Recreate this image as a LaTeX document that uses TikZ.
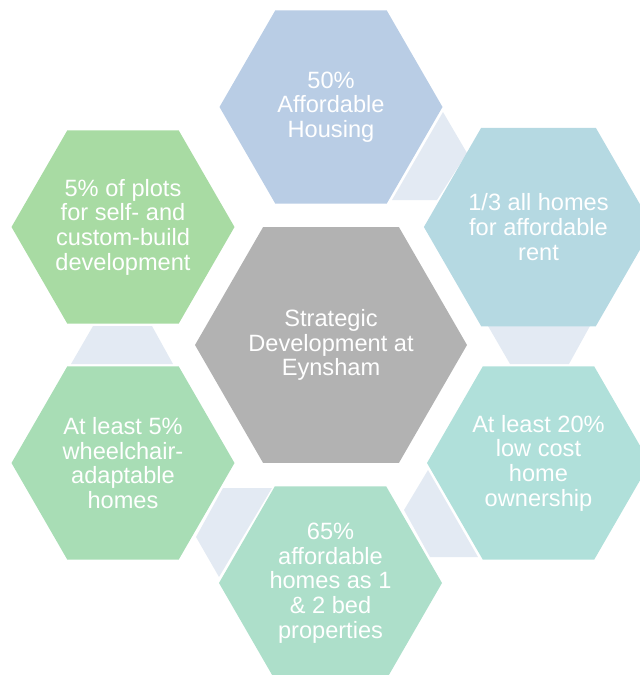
\documentclass[tikz,border=0pt]{standalone}
\usepackage{fontspec}
\setmainfont{Liberation Sans}
\usetikzlibrary{shapes.geometric}

\definecolor{hexBlue}{RGB}{185,205,229}
\definecolor{hexSky}{RGB}{181,217,226}
\definecolor{hexAqua}{RGB}{176,224,218}
\definecolor{hexMint}{RGB}{173,223,202}
\definecolor{hexSea}{RGB}{168,221,181}
\definecolor{hexLeaf}{RGB}{168,219,163}
\definecolor{hexGrey}{RGB}{178,178,178}
\definecolor{linkFill}{RGB}{227,234,243}

\tikzset{
  hexcell/.style={regular polygon, regular polygon sides=6,
    minimum size=223pt, inner sep=0pt, outer sep=0pt, draw=none,
    text=white, align=center, font=\fontsize{23.6}{24.7}\selectfont},
  hexhub/.style={hexcell, minimum size=272pt},
  linkpiece/.style={fill=linkFill, draw=none}
}

\begin{document}
\begin{tikzpicture}[x=1pt, y=-1pt]
  \useasboundingbox (0,0) rectangle (640,675);

  % light links between neighbouring cells
  \fill[linkpiece] (443,112) -- (467,153) -- (437,200) -- (392,200) -- cycle;
  \fill[linkpiece] (488,326) -- (590,326) -- (569,364) -- (510,364) -- cycle;
  \fill[linkpiece] (428,470) -- (404,510) -- (430,557) -- (478,557) -- cycle;
  \fill[linkpiece] (223,488) -- (272,488) -- (219,577) -- (196,537) -- cycle;
  \fill[linkpiece] (93,326) -- (152,326) -- (173,364) -- (71,364) -- cycle;

  % central cell
  \node[hexhub, fill=hexGrey] (hub) at (331,345) {Strategic\\Development at\\Eynsham};

  % surrounding cells
  \node[hexcell, fill=hexBlue] (afford) at (331,107) {50\%\\Affordable\\Housing};
  \node[hexcell, fill=hexSky]  (rent)   at (538.5,227) {1/3 all homes\\for affordable\\rent};
  \node[hexcell, fill=hexAqua] (owner)  at (538.5,463) {At least 20\%\\low cost\\home\\ownership};
  \node[hexcell, fill=hexMint] (beds)   at (330.5,583) {65\%\\affordable\\homes as 1\\\& 2 bed\\properties};
  \node[hexcell, fill=hexSea]  (wheel)  at (123,463) {At least 5\%\\wheelchair-\\adaptable\\homes};
  \node[hexcell, fill=hexLeaf] (plots)  at (123,227) {5\% of plots\\for self- and\\custom-build\\development};
\end{tikzpicture}
\end{document}
